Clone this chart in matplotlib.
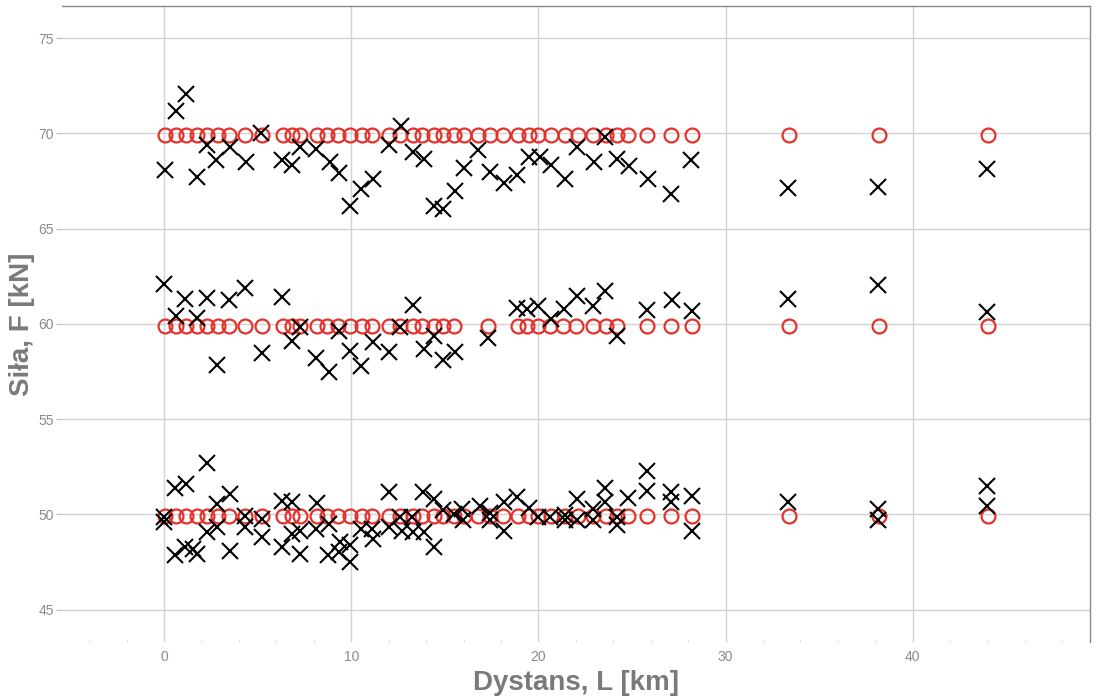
import matplotlib
matplotlib.use('Agg')
import matplotlib.pyplot as plt
import numpy as np

plt.rcParams.update({
    'font.family': ['Liberation Sans', 'DejaVu Sans'],
    'figure.dpi': 100,
})

# Reference (set) force levels and the distances they were set at
ref_x_70 = [0.05, 0.64, 1.18, 1.76, 2.3, 2.89, 3.48, 4.33, 5.24, 6.36, 6.84, 7.27, 8.18,
            8.72, 9.3, 9.95, 10.6, 11.1, 12.0, 12.6, 13.3, 13.8, 14.4, 14.9, 15.5, 16.0,
            16.8, 17.4, 18.1, 18.9, 19.5, 20.0, 20.7, 21.4, 22.1, 22.9, 23.6, 24.2, 24.8,
            25.8, 27.1, 28.2, 33.4, 38.2, 44.0]
ref_x_60 = [0.05, 0.64, 1.18, 1.76, 2.3, 2.89, 3.48, 4.33, 5.24, 6.36, 6.84, 7.27, 8.18,
            8.72, 9.3, 9.95, 10.6, 11.1, 12.0, 12.6, 13.3, 13.8, 14.4, 14.9, 15.5,
            17.3, 18.9, 19.4, 20.0, 20.6, 21.3, 22.0, 22.9, 23.6, 24.2,
            25.8, 27.1, 28.2, 33.4, 38.2, 44.0]
ref_x_50 = ref_x_70
ref_levels = [69.9, 59.9, 49.9]

# Measured force
meas_x_70 = [0.05, 0.64, 1.18, 1.75, 2.3, 2.8, 3.5, 4.37, 5.2, 6.3, 6.83, 7.27, 8.13, 8.88,
             9.37, 9.95, 10.5, 11.16, 12.0, 12.66, 13.3, 13.87, 14.44, 14.9, 15.56, 16.0,
             16.8, 17.4, 18.14, 18.86, 19.48, 20.07, 20.68, 21.44, 22.07, 22.96, 23.58,
             24.2, 24.83, 25.85, 27.1, 28.17, 33.35, 38.15, 43.95]
meas_f_70 = [68.09, 71.19, 72.07, 67.7, 69.4, 68.6, 69.3, 68.47, 70.0, 68.6, 68.35, 69.3,
             69.2, 68.5, 67.9, 66.2, 67.1, 67.6, 69.4, 70.36, 69.0, 68.65, 66.2, 66.0,
             66.95, 68.18, 69.14, 67.95, 67.4, 67.8, 68.75, 68.75, 68.35, 67.6, 69.3,
             68.47, 69.8, 68.65, 68.3, 67.6, 66.8, 68.58, 67.15, 67.2, 68.15]

meas_x_60 = [0.0, 0.64, 1.12, 1.75, 2.28, 2.82, 3.49, 4.33, 5.22, 6.29, 6.82, 7.26, 8.12,
             8.83, 9.37, 9.94, 10.5, 11.16, 12.0, 12.62, 13.3, 13.9, 14.42, 14.9, 15.55,
             17.33, 18.84, 19.41, 20.0, 20.66, 21.37, 22.05, 22.9, 23.56, 24.18, 25.79,
             27.12, 28.19, 33.35, 38.15, 43.95]
meas_f_60 = [62.07, 60.41, 61.32, 60.32, 61.37, 57.83, 61.25, 61.9, 58.49, 61.42, 59.1,
             59.85, 58.23, 57.48, 59.62, 58.58, 57.79, 59.02, 58.52, 59.85, 60.97, 58.7,
             59.36, 58.1, 58.52, 59.28, 60.85, 60.76, 60.93, 60.24, 60.8, 61.46, 60.93,
             61.72, 59.36, 60.72, 61.25, 60.67, 61.3, 62.04, 60.63]

meas_x_50 = [0.0, 0.0, 0.59, 1.18, 2.28, 0.59, 1.12, 1.57, 1.75, 2.3, 2.82, 2.82, 3.53,
             3.53, 4.33, 4.33, 5.22, 5.22, 6.29, 6.29, 6.82, 6.82, 7.27, 7.27, 8.16, 8.12,
             8.84, 8.78, 9.4, 9.37, 9.94, 9.94, 10.5, 11.1, 11.16, 12.0, 12.04, 12.6, 12.7,
             13.23, 13.3, 13.86, 13.9, 14.4, 14.4, 14.9, 15.47, 15.92, 15.97, 16.86, 17.43,
             17.43, 18.14, 18.14, 18.86, 19.48, 20.0, 20.63, 21.43, 21.43, 22.05, 22.05,
             22.93, 22.93, 23.56, 23.56, 24.18, 24.18, 24.8, 25.8, 25.8, 27.1, 27.1, 28.2,
             28.2, 33.35, 38.15, 38.15, 43.95, 43.95]
meas_f_50 = [49.87, 49.6, 51.37, 51.6, 52.7, 47.88, 48.28, 48.2, 47.93, 49.07, 50.55, 49.33,
             51.07, 48.1, 49.94, 49.33, 49.76, 48.8, 50.72, 48.28, 50.67, 48.98, 49.15,
             47.93, 50.6, 49.24, 49.5, 47.88, 48.54, 48.02, 48.37, 47.5, 49.24, 49.24,
             48.72, 51.16, 49.33, 49.85, 49.15, 49.85, 49.07, 51.16, 49.07, 50.8, 48.28,
             50.25, 50.03, 50.29, 49.68, 50.46, 50.08, 49.68, 50.67, 49.15, 50.9, 50.32,
             49.85, 49.85, 49.97, 49.68, 50.8, 49.68, 50.29, 49.68, 51.37, 50.67, 49.85,
             49.45, 50.85, 52.3, 51.2, 51.16, 50.64, 50.98, 49.15, 50.64, 50.26, 49.7,
             51.5, 50.46]

fig = plt.figure(figsize=(10.96, 6.98))
ax = fig.add_axes([0.0566, 0.0802, 0.9379, 0.9112])

red = '#e3312b'
for xs, lvl in zip([ref_x_70, ref_x_60, ref_x_50], ref_levels):
    ax.plot(xs, [lvl] * len(xs), linestyle='none', marker='o', markersize=10,
            markerfacecolor='none', markeredgecolor=red, markeredgewidth=1.6, zorder=3)

for xs, fs in [(meas_x_70, meas_f_70), (meas_x_60, meas_f_60), (meas_x_50, meas_f_50)]:
    ax.plot(xs, fs, linestyle='none', marker='x', markersize=11, color='black',
            markeredgewidth=1.5, zorder=4)

ax.set_xlim(-5.45, 49.47)
ax.set_ylim(43.3, 76.68)
ax.set_xticks([0, 10, 20, 30, 40])
ax.set_yticks([45, 50, 55, 60, 65, 70, 75])
ax.set_xticks(np.arange(-4, 49, 2), minor=True)
ax.grid(True, which='major', color='#d2d2d2', linewidth=1.0)
ax.set_axisbelow(True)

for side in ['left', 'bottom']:
    ax.spines[side].set_visible(False)
for side in ['top', 'right']:
    ax.spines[side].set_color('#8a8a8a')
    ax.spines[side].set_linewidth(1.0)

ax.tick_params(axis='y', which='major', length=4, color='#bdbdbd', labelcolor='#8a8a8a',
               labelsize=10, pad=2)
ax.tick_params(axis='x', which='major', length=0, labelcolor='#8a8a8a', labelsize=10, pad=6)
ax.tick_params(axis='x', which='minor', length=1.5, direction='in', color='#cfcfcf')

ax.set_xlabel('Dystans, L [km]', fontsize=20, fontweight='bold', color='#7a7a7a', labelpad=4)
ax.set_ylabel('Siła, F [kN]', fontsize=20, fontweight='bold', color='#7a7a7a', labelpad=2)

plt.savefig('out.png', dpi=100)
plt.close()
